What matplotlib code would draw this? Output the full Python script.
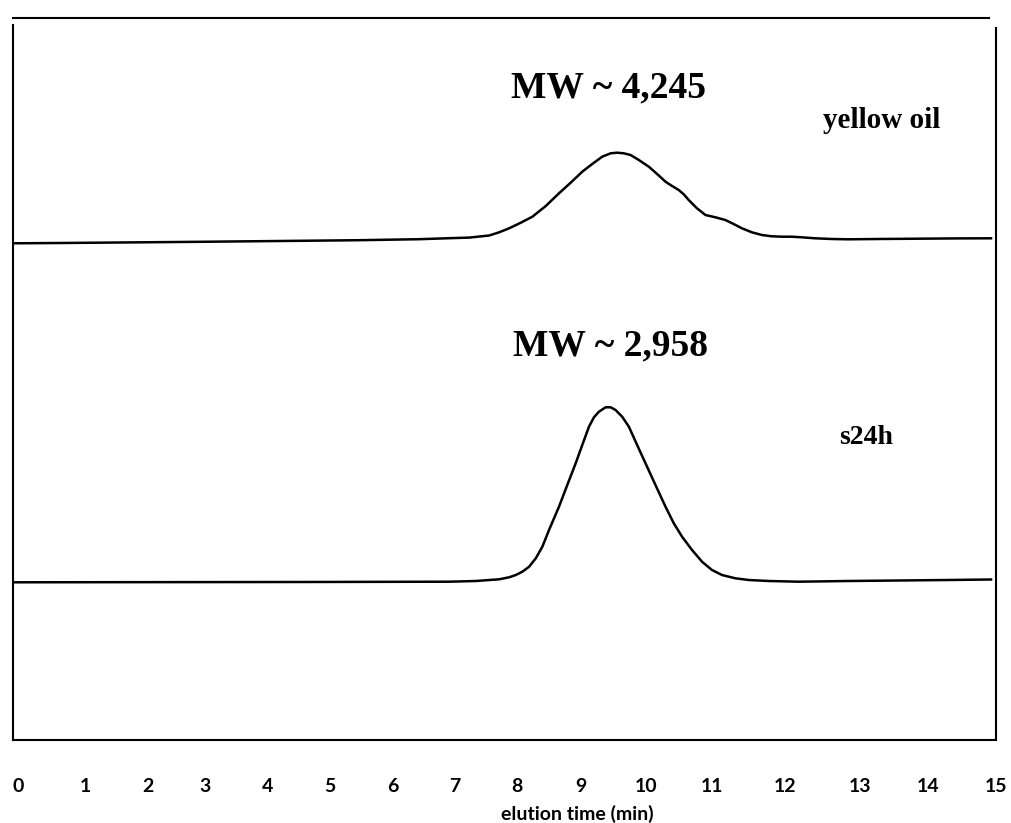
import matplotlib
matplotlib.use("Agg")
import matplotlib.pyplot as plt

# elution time (min) and detector signal (arbitrary units)
t_oil = [-0.092, 0.643, 1.561, 2.786, 4.010, 5.235, 6.153, 6.613, 6.919, 7.225,
         7.378, 7.531, 7.710, 7.888, 8.093, 8.296, 8.475, 8.653, 8.806, 8.959,
         9.088, 9.189, 9.291, 9.394, 9.521, 9.674, 9.801, 9.930, 10.031, 10.133,
         10.210, 10.286, 10.413, 10.542, 10.695, 10.848, 10.975, 11.102, 11.255, 11.408,
         11.561, 11.714, 11.867, 12.020, 12.225, 12.480, 12.735, 13.194, 13.807, 14.419,
         14.924]
s_oil = [496.7, 497.0, 497.5, 498.2, 499.0, 499.8, 500.8, 501.8, 502.4, 504.5,
         507.7, 511.7, 517.3, 523.3, 534.0, 546.7, 557.3, 568.3, 576.0, 583.3,
         586.7, 587.3, 586.7, 585.0, 580.0, 573.3, 566.0, 558.3, 554.0, 550.0,
         545.7, 540.0, 531.7, 525.0, 522.7, 520.0, 516.0, 511.7, 507.7, 505.0,
         503.7, 503.3, 503.3, 502.7, 501.7, 501.0, 500.7, 501.0, 501.3, 501.6,
         501.7]

t_s24h = [-0.092, 1.255, 2.786, 4.316, 5.847, 6.613, 7.021, 7.378, 7.531, 7.633,
          7.735, 7.837, 7.940, 8.041, 8.143, 8.296, 8.423, 8.552, 8.653, 8.756,
          8.832, 8.909, 9.011, 9.088, 9.164, 9.265, 9.368, 9.495, 9.623, 9.776,
          9.930, 10.057, 10.184, 10.337, 10.490, 10.643, 10.796, 11.001, 11.205, 11.511,
          11.970, 12.735, 13.500, 14.266, 14.924]
s_s24h = [157.7, 157.8, 157.9, 158.0, 158.2, 158.3, 159.0, 160.7, 162.7, 165.0,
          168.3, 173.3, 181.7, 193.3, 210.0, 233.3, 255.0, 276.7, 295.0, 313.3,
          322.7, 328.3, 332.7, 332.7, 330.0, 323.3, 313.3, 295.0, 276.7, 255.0,
          233.3, 216.7, 203.3, 190.0, 178.3, 170.0, 165.0, 161.7, 160.0, 159.0,
          158.3, 159.0, 159.5, 160.0, 160.5]

tick_lab = ["0", "1", "2", "3", "4", "5", "6", "7", "8", "9", "10", "11", "12", "13", "14", "15"]
# the printed scale is not evenly spaced on the scan
tick_pos = [0, 1.03, 1.99, 2.86, 3.83, 4.78, 5.74, 6.69, 7.65, 8.63, 9.63, 10.64, 11.77, 12.92, 13.96, 15.0]

fig = plt.figure(figsize=(10.11, 8.23), dpi=100)
ax = fig.add_axes([13 / 1011, 83 / 823, 983 / 1011, 722 / 823])

ax.plot(t_oil, s_oil, color="black", lw=1.8)
ax.plot(t_s24h, s_s24h, color="black", lw=1.8)

ax.set_xlim(-0.08, 14.97)
ax.set_ylim(0, 722)
ax.set_yticks([])
ax.set_xticks(tick_pos, tick_lab)
ax.tick_params(axis="x", length=0, pad=27)
for lab in ax.get_xticklabels():
    lab.set_fontfamily("Lato")
    lab.set_fontweight("bold")
    lab.set_fontsize(14)

for side in ["left", "right", "top", "bottom"]:
    ax.spines[side].set_linewidth(1.5)
    ax.spines[side].set_color("black")
ax.spines["left"].set_bounds(0, 715)
ax.spines["right"].set_bounds(0, 712)
ax.spines["top"].set_bounds(-0.08, 14.90)

ax.set_xlabel("elution time (min)", fontfamily="Lato", fontweight="bold", fontsize=14)
ax.xaxis.set_label_coords(0.574, -0.09)

serif = dict(fontfamily="Liberation Serif", fontweight="bold", color="black")
ax.text(9.06, 643, "MW ~ 4,245", ha="center", va="baseline", fontsize=27, **serif)
ax.text(9.09, 385, "MW ~ 2,958", ha="center", va="baseline", fontsize=27, **serif)
ax.text(13.24, 612, "yellow oil", ha="center", va="baseline", fontsize=21, **serif)
ax.text(13.01, 296, "s24h", ha="center", va="baseline", fontsize=20, **serif)

fig.savefig("out.png", dpi=100)
